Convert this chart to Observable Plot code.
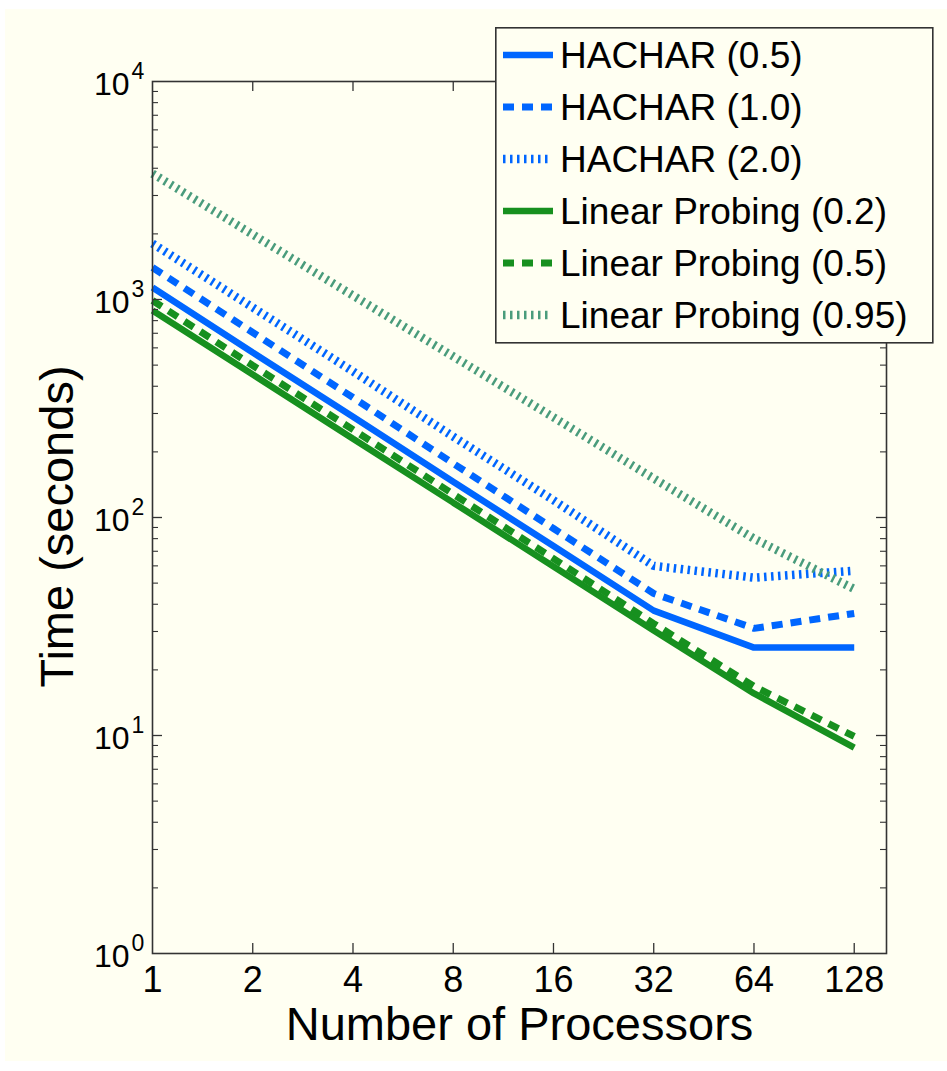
<!DOCTYPE html>
<html><head><meta charset="utf-8">
<script src="https://cdn.jsdelivr.net/npm/d3@7"></script>
<script src="https://cdn.jsdelivr.net/npm/@observablehq/plot@0.6"></script>
<style>
html,body{margin:0;padding:0;background:#fff;}
#wrap{position:relative;width:947px;height:1071px;overflow:hidden;}
#bg{position:absolute;left:5px;top:9px;width:942px;height:1052px;background:#fffff2;}
#chart{position:absolute;left:0;top:0;}
#legend{position:absolute;left:495px;top:27px;}
</style></head><body>
<div id="wrap"><div id="bg"></div><div id="chart"></div><div id="legend"></div></div>
<script>
// ---- data ----
const procs = [1, 2, 4, 8, 16, 32, 64, 128];
const seriesNames = ["HACHAR (0.5)", "HACHAR (1.0)", "HACHAR (2.0)", "Linear Probing (0.2)", "Linear Probing (0.5)", "Linear Probing (0.95)"];
const hachar05 = [1135, 571, 290, 146, 74, 37.4, 25.3, 25.3];
const hachar10 = [1402, 706, 355, 177, 89, 44.8, 31, 36.3];
const hachar20 = [1807, 919, 468, 235, 120, 60, 53, 57];
const lp02 = [891, 453, 230, 117, 59.6, 30.3, 15.6, 8.8];
const lp05 = [989, 498, 253, 128, 64.8, 32.6, 16.8, 9.9];
const lp095 = [3784, 1986, 1043, 548, 288, 151, 80, 47];
const xTickValues = [1, 2, 4, 8, 16, 32, 64, 128];
const yDecades = [1, 10, 100, 1000, 10000];
const xLabel = "Number of Processors";
const yLabel = "Time (seconds)";

// ---- styles (kept separate from data) ----
const BLUE = "#0066ff", GREEN = "#17901f", TEAL = "#4a9c7c";
const styles = {
  "HACHAR (0.5)": {stroke: BLUE, strokeWidth: 6.5, dash: null},
  "HACHAR (1.0)": {stroke: BLUE, strokeWidth: 7, dash: "11,8"},
  "HACHAR (2.0)": {stroke: BLUE, strokeWidth: 8.5, dash: "2.5,4.5"},
  "Linear Probing (0.2)": {stroke: GREEN, strokeWidth: 6.5, dash: null},
  "Linear Probing (0.5)": {stroke: GREEN, strokeWidth: 7, dash: "11,8"},
  "Linear Probing (0.95)": {stroke: TEAL, strokeWidth: 8.5, dash: "2.5,4.5"}
};

const seriesValues = [hachar05, hachar10, hachar20, lp02, lp05, lp095];
const table = [];
seriesNames.forEach((name, i) => procs.forEach((p, j) => table.push({series: name, procs: p, time: seriesValues[i][j]})));

// minor / major ticks
const yMajor = [10, 100, 1000];
const yMinor = [];
for (let k = 0; k < 4; k++) for (let m = 2; m <= 9; m++) yMinor.push(m * Math.pow(10, k));
const xInner = xTickValues.slice(1);

const W = 947, H = 1071, mL = 152, mR = 61, mT = 81, mB = 118;
const plotW = W - mL - mR, plotH = H - mT - mB;
const AX = "#333";
const FONT = "Liberation Sans, Arial, Helvetica, sans-serif";

const lineMarks = seriesNames.map(name => Plot.line(table.filter(d => d.series === name), {
  x: "procs", y: "time",
  stroke: styles[name].stroke, strokeWidth: styles[name].strokeWidth,
  strokeDasharray: styles[name].dash || undefined,
  strokeLinecap: "butt", strokeLinejoin: "miter"
}));

const chart = Plot.plot({
  width: W, height: H,
  marginLeft: mL, marginRight: mR, marginTop: mT, marginBottom: mB,
  style: {background: "transparent", fontFamily: FONT, color: "#000"},
  x: {type: "log", base: 2, domain: [1, 160], axis: null},
  y: {type: "log", domain: [1, 10000], axis: null},
  marks: [
    ...lineMarks,
    // inward ticks, bottom and top
    Plot.ruleX(xInner, {x: d => d, insetTop: plotH - 10, stroke: AX, strokeWidth: 1.3}),
    Plot.ruleX(xInner, {x: d => d, insetBottom: plotH - 10, stroke: AX, strokeWidth: 1.3}),
    // inward y ticks, left and right
    Plot.ruleY(yMajor, {y: d => d, insetRight: plotW - 10, stroke: AX, strokeWidth: 1.3}),
    Plot.ruleY(yMajor, {y: d => d, insetLeft: plotW - 10, stroke: AX, strokeWidth: 1.3}),
    Plot.ruleY(yMinor, {y: d => d, insetRight: plotW - 6, stroke: AX, strokeWidth: 1.1}),
    Plot.ruleY(yMinor, {y: d => d, insetLeft: plotW - 6, stroke: AX, strokeWidth: 1.1}),
    Plot.frame({stroke: AX, strokeWidth: 1.6}),
    // x tick labels
    Plot.text(xTickValues, {x: d => d, frameAnchor: "bottom", dy: 27, text: d => String(d), fontSize: 36, fill: "#000", lineAnchor: "middle"}),
    // y tick labels: "10" + exponent
    Plot.text(yDecades, {y: d => d, frameAnchor: "left", dx: -23, dy: 3, text: () => "10", textAnchor: "end", fontSize: 32, fill: "#000", lineAnchor: "middle"}),
    Plot.text(yDecades, {y: d => d, frameAnchor: "left", dx: -21, dy: -10, text: d => String(Math.round(Math.log10(d))), textAnchor: "start", fontSize: 23, fill: "#000", lineAnchor: "middle"}),
    // axis titles
    Plot.text([xLabel], {frameAnchor: "bottom", dy: 71, text: d => d, fontSize: 47, fill: "#000", lineAnchor: "middle"}),
    Plot.text([yLabel], {frameAnchor: "left", dx: -95, dy: 9, text: d => d, rotate: -90, textAnchor: "middle", fontSize: 47, fill: "#000", lineAnchor: "middle"})
  ]
});
document.getElementById("chart").appendChild(chart);

// ---- legend (overlaid inside the axes, as in the original) ----
const LW = 440, LH = 318;
const lg = d3.select("#legend").append("svg").attr("width", LW).attr("height", LH)
  .style("font-family", FONT);
lg.append("rect").attr("x", 0.8).attr("y", 0.8).attr("width", LW - 3).attr("height", LH - 3)
  .attr("fill", "#fffff2").attr("stroke", AX).attr("stroke-width", 1.6);
seriesNames.forEach((name, i) => {
  const cy = 28 + i * 52;
  const s = styles[name];
  lg.append("line").attr("x1", 8).attr("x2", s.dash && s.dash.startsWith("2.5") ? 54 : 58)
    .attr("y1", cy).attr("y2", cy)
    .attr("stroke", s.stroke).attr("stroke-width", s.strokeWidth)
    .attr("stroke-dasharray", s.dash).attr("stroke-linecap", "butt");
  lg.append("text").attr("x", 65).attr("y", cy).attr("dy", "0.35em")
    .attr("font-size", 37).attr("fill", "#000").text(name);
});
</script>
</body></html>
